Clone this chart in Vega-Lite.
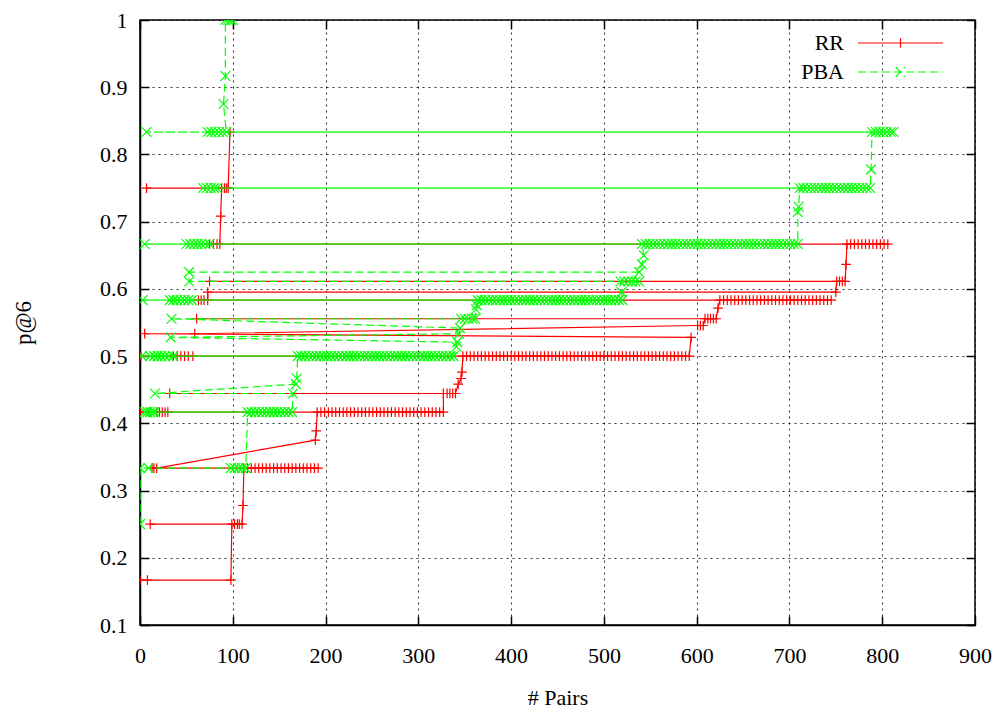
{
"$schema": "https://vega.github.io/schema/vega-lite/v6.json",
"width": 835, "height": 605,
"autosize": {"type": "none"},
"padding": {"left": 140, "top": 20, "right": 28, "bottom": 88},
"background": "white",
"config": {"view": {"stroke": "#000", "strokeWidth": 1.5}, "font": "Liberation Serif"},
"datasets": {
"rr": [
{"x":0,"y":0.1667},{"x":8,"y":0.1667},{"x":98,"y":0.1667},
{"x":99,"y":0.25},{"x":102,"y":0.25},{"x":105,"y":0.25},{"x":11,"y":0.25},{"x":107,"y":0.25},{"x":110,"y":0.25},
{"x":111,"y":0.2778},
{"x":112,"y":0.3333},{"x":116,"y":0.3333},{"x":120,"y":0.3333},{"x":124,"y":0.3333},{"x":128,"y":0.3333},{"x":132,"y":0.3333},{"x":136,"y":0.3333},{"x":140,"y":0.3333},{"x":144,"y":0.3333},{"x":148,"y":0.3333},{"x":152,"y":0.3333},{"x":156,"y":0.3333},{"x":160,"y":0.3333},{"x":164,"y":0.3333},{"x":168,"y":0.3333},{"x":172,"y":0.3333},{"x":176,"y":0.3333},{"x":180,"y":0.3333},{"x":184,"y":0.3333},{"x":188,"y":0.3333},{"x":192,"y":0.3333},{"x":13,"y":0.3333},{"x":15,"y":0.3333},{"x":18,"y":0.3333},
{"x":189,"y":0.375},{"x":190,"y":0.3889},
{"x":191,"y":0.4167},{"x":195,"y":0.4167},{"x":199,"y":0.4167},{"x":203,"y":0.4167},{"x":207,"y":0.4167},{"x":211,"y":0.4167},{"x":215,"y":0.4167},{"x":219,"y":0.4167},{"x":223,"y":0.4167},{"x":227,"y":0.4167},{"x":231,"y":0.4167},{"x":235,"y":0.4167},{"x":239,"y":0.4167},{"x":243,"y":0.4167},{"x":247,"y":0.4167},{"x":251,"y":0.4167},{"x":0,"y":0.4167},{"x":18,"y":0.4167},{"x":21,"y":0.4167},{"x":24,"y":0.4167},{"x":27,"y":0.4167},{"x":30,"y":0.4167},{"x":255,"y":0.4167},{"x":259,"y":0.4167},{"x":263,"y":0.4167},{"x":267,"y":0.4167},{"x":271,"y":0.4167},{"x":275,"y":0.4167},{"x":279,"y":0.4167},{"x":283,"y":0.4167},{"x":287,"y":0.4167},{"x":291,"y":0.4167},{"x":295,"y":0.4167},{"x":299,"y":0.4167},{"x":303,"y":0.4167},{"x":307,"y":0.4167},{"x":311,"y":0.4167},{"x":315,"y":0.4167},{"x":319,"y":0.4167},{"x":323,"y":0.4167},{"x":327,"y":0.4167},
{"x":327,"y":0.4444},{"x":331,"y":0.4444},{"x":32,"y":0.4444},{"x":334,"y":0.4444},{"x":337,"y":0.4444},{"x":340,"y":0.4444},
{"x":343,"y":0.4583},{"x":346,"y":0.4667},{"x":347,"y":0.4762},
{"x":348,"y":0.5},{"x":352,"y":0.5},{"x":356,"y":0.5},{"x":360,"y":0.5},{"x":364,"y":0.5},{"x":368,"y":0.5},{"x":372,"y":0.5},{"x":376,"y":0.5},{"x":380,"y":0.5},{"x":384,"y":0.5},{"x":388,"y":0.5},{"x":392,"y":0.5},{"x":396,"y":0.5},{"x":400,"y":0.5},{"x":404,"y":0.5},{"x":408,"y":0.5},{"x":412,"y":0.5},{"x":416,"y":0.5},{"x":420,"y":0.5},{"x":424,"y":0.5},{"x":428,"y":0.5},{"x":432,"y":0.5},{"x":436,"y":0.5},{"x":440,"y":0.5},{"x":444,"y":0.5},{"x":448,"y":0.5},{"x":452,"y":0.5},{"x":456,"y":0.5},{"x":460,"y":0.5},{"x":464,"y":0.5},{"x":468,"y":0.5},{"x":1,"y":0.5},{"x":36,"y":0.5},{"x":40,"y":0.5},{"x":44,"y":0.5},{"x":48,"y":0.5},{"x":52,"y":0.5},{"x":57,"y":0.5},{"x":472,"y":0.5},{"x":476,"y":0.5},{"x":480,"y":0.5},{"x":484,"y":0.5},{"x":488,"y":0.5},{"x":492,"y":0.5},{"x":496,"y":0.5},{"x":500,"y":0.5},{"x":504,"y":0.5},{"x":508,"y":0.5},{"x":512,"y":0.5},{"x":516,"y":0.5},{"x":520,"y":0.5},{"x":524,"y":0.5},{"x":528,"y":0.5},{"x":532,"y":0.5},{"x":536,"y":0.5},{"x":540,"y":0.5},{"x":544,"y":0.5},{"x":548,"y":0.5},{"x":552,"y":0.5},{"x":556,"y":0.5},{"x":560,"y":0.5},{"x":564,"y":0.5},{"x":568,"y":0.5},{"x":572,"y":0.5},{"x":576,"y":0.5},{"x":580,"y":0.5},{"x":584,"y":0.5},{"x":588,"y":0.5},{"x":592,"y":0.5},
{"x":594,"y":0.5278},
{"x":5,"y":0.5333},{"x":59,"y":0.5333},
{"x":601,"y":0.5455},{"x":604,"y":0.5455},{"x":607,"y":0.5455},
{"x":609,"y":0.5556},{"x":612,"y":0.5556},{"x":615,"y":0.5556},{"x":61,"y":0.5556},{"x":618,"y":0.5556},{"x":621,"y":0.5556},
{"x":623,"y":0.5714},
{"x":625,"y":0.5833},{"x":629,"y":0.5833},{"x":633,"y":0.5833},{"x":637,"y":0.5833},{"x":641,"y":0.5833},{"x":645,"y":0.5833},{"x":649,"y":0.5833},{"x":653,"y":0.5833},{"x":657,"y":0.5833},{"x":661,"y":0.5833},{"x":665,"y":0.5833},{"x":669,"y":0.5833},{"x":673,"y":0.5833},{"x":677,"y":0.5833},{"x":681,"y":0.5833},{"x":685,"y":0.5833},{"x":689,"y":0.5833},{"x":693,"y":0.5833},{"x":697,"y":0.5833},{"x":701,"y":0.5833},{"x":705,"y":0.5833},{"x":709,"y":0.5833},{"x":713,"y":0.5833},{"x":717,"y":0.5833},{"x":721,"y":0.5833},{"x":725,"y":0.5833},{"x":729,"y":0.5833},{"x":733,"y":0.5833},{"x":737,"y":0.5833},{"x":741,"y":0.5833},{"x":745,"y":0.5833},{"x":63,"y":0.5833},{"x":66,"y":0.5833},{"x":69,"y":0.5833},{"x":73,"y":0.5833},
{"x":73,"y":0.5952},{"x":750,"y":0.5952},
{"x":751,"y":0.6111},{"x":754,"y":0.6111},{"x":75,"y":0.6111},{"x":757,"y":0.6111},{"x":760,"y":0.6111},
{"x":761,"y":0.6364},
{"x":762,"y":0.6667},{"x":766,"y":0.6667},{"x":770,"y":0.6667},{"x":75,"y":0.6667},{"x":774,"y":0.6667},{"x":778,"y":0.6667},{"x":782,"y":0.6667},{"x":79,"y":0.6667},{"x":786,"y":0.6667},{"x":790,"y":0.6667},{"x":794,"y":0.6667},{"x":83,"y":0.6667},{"x":798,"y":0.6667},{"x":802,"y":0.6667},{"x":806,"y":0.6667},{"x":86,"y":0.6667},
{"x":87,"y":0.7083},
{"x":88,"y":0.75},{"x":91,"y":0.75},{"x":7,"y":0.75},{"x":93,"y":0.75},{"x":95,"y":0.75},
{"x":97,"y":0.8333}
],
"pba": [
{"x":0,"y":0.25},
{"x":0,"y":0.3333},{"x":9,"y":0.3333},{"x":98,"y":0.3333},{"x":102,"y":0.3333},{"x":106,"y":0.3333},{"x":110,"y":0.3333},{"x":114,"y":0.3333},
{"x":116,"y":0.4167},{"x":120,"y":0.4167},{"x":124,"y":0.4167},{"x":5,"y":0.4167},{"x":128,"y":0.4167},{"x":132,"y":0.4167},{"x":8,"y":0.4167},{"x":136,"y":0.4167},{"x":140,"y":0.4167},{"x":11,"y":0.4167},{"x":144,"y":0.4167},{"x":148,"y":0.4167},{"x":14,"y":0.4167},{"x":152,"y":0.4167},{"x":156,"y":0.4167},{"x":16,"y":0.4167},{"x":160,"y":0.4167},{"x":164,"y":0.4167},
{"x":165,"y":0.4444},{"x":16,"y":0.4444},
{"x":168,"y":0.4583},{"x":169,"y":0.4667},
{"x":170,"y":0.5},{"x":174,"y":0.5},{"x":178,"y":0.5},{"x":182,"y":0.5},{"x":186,"y":0.5},{"x":190,"y":0.5},{"x":2,"y":0.5},{"x":194,"y":0.5},{"x":198,"y":0.5},{"x":202,"y":0.5},{"x":206,"y":0.5},{"x":210,"y":0.5},{"x":11,"y":0.5},{"x":214,"y":0.5},{"x":218,"y":0.5},{"x":222,"y":0.5},{"x":226,"y":0.5},{"x":230,"y":0.5},{"x":15,"y":0.5},{"x":234,"y":0.5},{"x":238,"y":0.5},{"x":242,"y":0.5},{"x":246,"y":0.5},{"x":250,"y":0.5},{"x":19,"y":0.5},{"x":254,"y":0.5},{"x":258,"y":0.5},{"x":262,"y":0.5},{"x":266,"y":0.5},{"x":270,"y":0.5},{"x":23,"y":0.5},{"x":274,"y":0.5},{"x":278,"y":0.5},{"x":282,"y":0.5},{"x":286,"y":0.5},{"x":290,"y":0.5},{"x":27,"y":0.5},{"x":294,"y":0.5},{"x":298,"y":0.5},{"x":302,"y":0.5},{"x":306,"y":0.5},{"x":310,"y":0.5},{"x":31,"y":0.5},{"x":314,"y":0.5},{"x":318,"y":0.5},{"x":322,"y":0.5},{"x":326,"y":0.5},{"x":330,"y":0.5},{"x":36,"y":0.5},{"x":334,"y":0.5},{"x":338,"y":0.5},
{"x":341,"y":0.5139},{"x":342,"y":0.5208},{"x":33,"y":0.5278},{"x":344,"y":0.5333},{"x":345,"y":0.5417},
{"x":34,"y":0.5556},{"x":346,"y":0.5556},{"x":350,"y":0.5556},{"x":354,"y":0.5556},{"x":358,"y":0.5556},{"x":361,"y":0.5556},
{"x":362,"y":0.5694},{"x":363,"y":0.5758},
{"x":364,"y":0.5833},{"x":368,"y":0.5833},{"x":372,"y":0.5833},{"x":376,"y":0.5833},{"x":380,"y":0.5833},{"x":3,"y":0.5833},{"x":384,"y":0.5833},{"x":388,"y":0.5833},{"x":392,"y":0.5833},{"x":396,"y":0.5833},{"x":400,"y":0.5833},{"x":32,"y":0.5833},{"x":404,"y":0.5833},{"x":408,"y":0.5833},{"x":412,"y":0.5833},{"x":416,"y":0.5833},{"x":420,"y":0.5833},{"x":36,"y":0.5833},{"x":424,"y":0.5833},{"x":428,"y":0.5833},{"x":432,"y":0.5833},{"x":436,"y":0.5833},{"x":440,"y":0.5833},{"x":40,"y":0.5833},{"x":444,"y":0.5833},{"x":448,"y":0.5833},{"x":452,"y":0.5833},{"x":456,"y":0.5833},{"x":460,"y":0.5833},{"x":44,"y":0.5833},{"x":464,"y":0.5833},{"x":468,"y":0.5833},{"x":472,"y":0.5833},{"x":476,"y":0.5833},{"x":480,"y":0.5833},{"x":48,"y":0.5833},{"x":484,"y":0.5833},{"x":488,"y":0.5833},{"x":492,"y":0.5833},{"x":496,"y":0.5833},{"x":500,"y":0.5833},{"x":52,"y":0.5833},{"x":504,"y":0.5833},{"x":508,"y":0.5833},{"x":512,"y":0.5833},{"x":516,"y":0.5833},{"x":56,"y":0.5833},{"x":520,"y":0.5833},
{"x":519,"y":0.5952},
{"x":518,"y":0.6111},{"x":522,"y":0.6111},{"x":526,"y":0.6111},{"x":530,"y":0.6111},{"x":534,"y":0.6111},{"x":538,"y":0.6111},{"x":53,"y":0.6111},
{"x":53,"y":0.625},{"x":538,"y":0.625},
{"x":541,"y":0.6364},{"x":543,"y":0.65},
{"x":541,"y":0.6667},{"x":545,"y":0.6667},{"x":549,"y":0.6667},{"x":553,"y":0.6667},{"x":557,"y":0.6667},{"x":561,"y":0.6667},{"x":5,"y":0.6667},{"x":565,"y":0.6667},{"x":569,"y":0.6667},{"x":573,"y":0.6667},{"x":577,"y":0.6667},{"x":581,"y":0.6667},{"x":50,"y":0.6667},{"x":585,"y":0.6667},{"x":589,"y":0.6667},{"x":593,"y":0.6667},{"x":597,"y":0.6667},{"x":601,"y":0.6667},{"x":54,"y":0.6667},{"x":605,"y":0.6667},{"x":609,"y":0.6667},{"x":613,"y":0.6667},{"x":617,"y":0.6667},{"x":621,"y":0.6667},{"x":58,"y":0.6667},{"x":625,"y":0.6667},{"x":629,"y":0.6667},{"x":633,"y":0.6667},{"x":637,"y":0.6667},{"x":641,"y":0.6667},{"x":62,"y":0.6667},{"x":645,"y":0.6667},{"x":649,"y":0.6667},{"x":653,"y":0.6667},{"x":657,"y":0.6667},{"x":661,"y":0.6667},{"x":66,"y":0.6667},{"x":665,"y":0.6667},{"x":669,"y":0.6667},{"x":673,"y":0.6667},{"x":677,"y":0.6667},{"x":681,"y":0.6667},{"x":70,"y":0.6667},{"x":685,"y":0.6667},{"x":689,"y":0.6667},{"x":693,"y":0.6667},{"x":697,"y":0.6667},{"x":701,"y":0.6667},{"x":75,"y":0.6667},{"x":705,"y":0.6667},{"x":709,"y":0.6667},
{"x":709,"y":0.7143},{"x":710,"y":0.7222},
{"x":711,"y":0.75},{"x":715,"y":0.75},{"x":719,"y":0.75},{"x":723,"y":0.75},{"x":68,"y":0.75},{"x":727,"y":0.75},{"x":731,"y":0.75},{"x":735,"y":0.75},{"x":739,"y":0.75},{"x":72,"y":0.75},{"x":743,"y":0.75},{"x":747,"y":0.75},{"x":751,"y":0.75},{"x":755,"y":0.75},{"x":76,"y":0.75},{"x":759,"y":0.75},{"x":763,"y":0.75},{"x":767,"y":0.75},{"x":771,"y":0.75},{"x":80,"y":0.75},{"x":775,"y":0.75},{"x":779,"y":0.75},{"x":783,"y":0.75},{"x":83,"y":0.75},{"x":787,"y":0.75},
{"x":788,"y":0.7778},
{"x":789,"y":0.8333},{"x":793,"y":0.8333},{"x":7,"y":0.8333},{"x":797,"y":0.8333},{"x":73,"y":0.8333},{"x":801,"y":0.8333},{"x":77,"y":0.8333},{"x":805,"y":0.8333},{"x":81,"y":0.8333},{"x":809,"y":0.8333},{"x":85,"y":0.8333},{"x":812,"y":0.8333},{"x":89,"y":0.8333},{"x":93,"y":0.8333},
{"x":90,"y":0.875},{"x":92,"y":0.9167},
{"x":92,"y":1.0},{"x":95,"y":1.0},{"x":98,"y":1.0},{"x":100,"y":1.0}
]
},
"layer": [
{"data": {"name": "rr"},
 "mark": {"type": "line", "strokeWidth": 1.2, "clip": true},
 "encoding": {
  "x": {"field": "x", "type": "quantitative", "scale": {"domain": [0, 900], "nice": false},
        "axis": {"orient": "bottom", "values": [0,100,200,300,400,500,600,700,800,900], "grid": true, "gridColor": "#000", "gridDash": [2,4], "gridOpacity": 0.8, "gridWidth": 1,
                 "tickSize": -9, "tickColor": "#000", "tickWidth": 1.5, "domainColor": "#000", "domainWidth": 1.5,
                 "labelPadding": 29, "labelFontSize": 22, "labelFont": "Liberation Serif", "labelColor": "#000", "labelFlush": false,
                 "title": "# Pairs", "titleFont": "Liberation Serif", "titleFontSize": 22, "titleFontWeight": "normal", "titleColor": "#000", "titlePadding": 21}},
  "y": {"field": "y", "type": "quantitative", "scale": {"domain": [0.1, 1], "nice": false, "zero": false},
        "axis": {"orient": "left", "values": [0.1,0.2,0.3,0.4,0.5,0.6,0.7,0.8,0.9,1.0], "format": ".1~f", "grid": true, "gridColor": "#000", "gridDash": [2,4], "gridOpacity": 0.8, "gridWidth": 1,
                 "tickSize": -9, "tickColor": "#000", "tickWidth": 1.5, "domainColor": "#000", "domainWidth": 1.5,
                 "labelPadding": 22, "labelFontSize": 22, "labelFont": "Liberation Serif", "labelColor": "#000", "labelFlush": false,
                 "title": "p@6", "titleFont": "Liberation Serif", "titleFontSize": 23, "titleFontWeight": "normal", "titleColor": "#000", "titlePadding": 64}},
  "order": {"value": null},
  "color": {"datum": "RR", "type": "nominal", "scale": {"domain": ["RR", "PBA"], "range": ["#ff0000", "#00ff00"]},
            "legend": {"title": null, "orient": "none", "legendX": 682, "legendY": 12, "padding": 0,
                       "labelFont": "Liberation Serif", "labelFontSize": 22, "labelColor": "#000", "labelAlign": "right", "labelOffset": 0,
                       "symbolSize": 100, "symbolStrokeWidth": 1.2, "rowPadding": 7, "symbolType": "M4,0L21,0",
                       "encode": {"symbols": {"update": {
                          "shape": {"signal": "datum.value === 'RR' ? 'M5,0L22,0M13.5,-0.95L13.5,0.95' : 'M5,0L22,0M12.55,-0.95L14.45,0.95M12.55,0.95L14.45,-0.95'"},
                          "strokeDash": {"signal": "datum.value === 'RR' ? [1,0] : [8,4]"},
                          "fill": {"value": "transparent"}}}}}}
 }},
{"data": {"name": "rr"},
 "mark": {"type": "point", "shape": "M-1,0L1,0M0,-1L0,1", "filled": false, "color": "#ff0000", "size": 95, "strokeWidth": 1.2, "opacity": 1, "clip": true},
 "encoding": {
  "x": {"field": "x", "type": "quantitative", "axis": {"orient": "top", "values": [0,100,200,300,400,500,600,700,800,900], "labels": false, "grid": false, "domain": false, "tickSize": -9, "tickColor": "#000", "tickWidth": 1.5, "title": null}},
  "y": {"field": "y", "type": "quantitative", "axis": {"orient": "right", "values": [0.1,0.2,0.3,0.4,0.5,0.6,0.7,0.8,0.9,1.0], "labels": false, "grid": false, "domain": false, "tickSize": -9, "tickColor": "#000", "tickWidth": 1.5, "title": null}}
 }},
{"data": {"name": "pba"},
 "mark": {"type": "line", "strokeWidth": 1.2, "strokeDash": [8,4], "clip": true},
 "encoding": {
  "x": {"field": "x", "type": "quantitative", "axis": null},
  "y": {"field": "y", "type": "quantitative", "axis": null},
  "order": {"value": null},
  "color": {"datum": "PBA", "type": "nominal"}
 }},
{"data": {"name": "pba"},
 "mark": {"type": "point", "shape": "M-1,-1L1,1M-1,1L1,-1", "filled": false, "color": "#00ff00", "size": 95, "strokeWidth": 1.2, "opacity": 1, "clip": true},
 "encoding": {
  "x": {"field": "x", "type": "quantitative", "axis": null},
  "y": {"field": "y", "type": "quantitative", "axis": null}
 }}
],
"resolve": {"axis": {"x": "independent", "y": "independent"}}
}
